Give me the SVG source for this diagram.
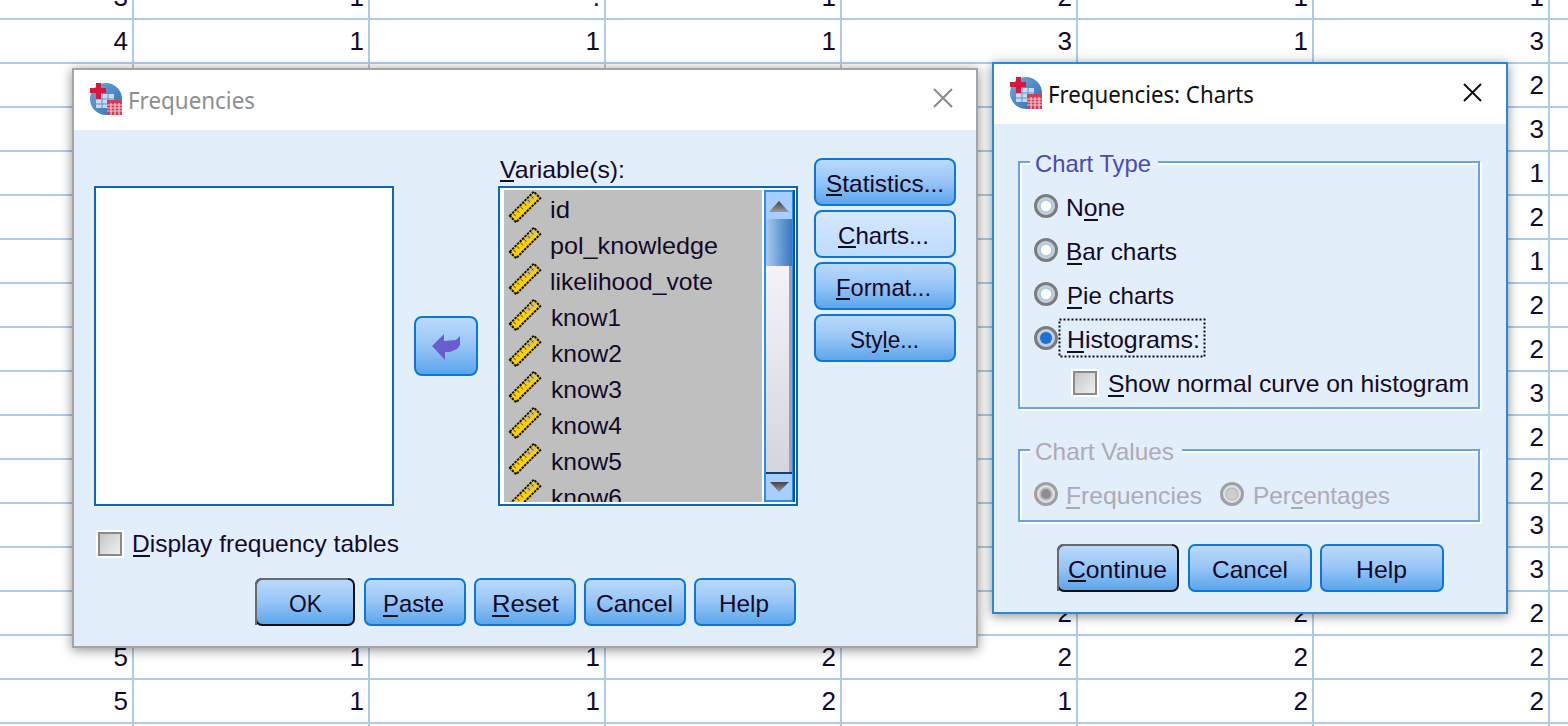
<svg xmlns="http://www.w3.org/2000/svg" width="1568" height="726" viewBox="0 0 1568 726">
<style>
.grid{stroke:#b0cbe6;stroke-width:2;fill:none}
.d{font-family:"Liberation Sans",Arial,sans-serif;font-size:26px;fill:#140a28;text-anchor:end}
.t{font-family:"Liberation Sans",Arial,sans-serif;font-size:24px;fill:#140a28;transform:translateY(.5px)}
.ttl{font-family:"Noto Sans","Open Sans",sans-serif;font-size:24px}
.grp{font-family:"Liberation Sans",Arial,sans-serif;font-size:24px;fill:#4a4ab4}
.dis{fill:#aeaab4}
.u{fill:#111}
.ud{fill:#aaa}
.btn{fill:url(#bg);stroke:#0b78d8;stroke-width:2}
.hov{fill:url(#bh);stroke:#0b78d8;stroke-width:2}
.box{fill:#fff;stroke:#0b67b8;stroke-width:2}
.gl{fill:none;stroke:#fff;stroke-width:2}
.gb{fill:none;stroke:#6fa2d6;stroke-width:2}
</style>
<defs>
<linearGradient id="bg" x1="0" y1="0" x2="0" y2="1"><stop offset="0" stop-color="#bcdafc"/><stop offset="0.5" stop-color="#96c5f6"/><stop offset="1" stop-color="#58a4ea"/></linearGradient>
<linearGradient id="bh" x1="0" y1="0" x2="0" y2="1"><stop offset="0" stop-color="#d4e7fc"/><stop offset="1" stop-color="#bedcfb"/></linearGradient>
<linearGradient id="thumb" x1="0" y1="0" x2="1" y2="0"><stop offset="0" stop-color="#a6cbf0"/><stop offset="1" stop-color="#3a78bc"/></linearGradient>
<linearGradient id="trough" x1="0" y1="0" x2="0" y2="1"><stop offset="0" stop-color="#ffffff"/><stop offset="1" stop-color="#d0d0dc"/></linearGradient>
<linearGradient id="chk" x1="0" y1="0" x2="1" y2="1"><stop offset="0" stop-color="#c4c4c4"/><stop offset="1" stop-color="#f2f2f2"/></linearGradient>
<linearGradient id="glob" x1="0" y1="0" x2="1" y2="1"><stop offset="0" stop-color="#6fa8dc"/><stop offset="1" stop-color="#2f6fae"/></linearGradient>
<linearGradient id="tri" x1="0" y1="0" x2="0" y2="1"><stop offset="0" stop-color="#444"/><stop offset="1" stop-color="#9a9a9a"/></linearGradient>
<filter id="sh" x="-5%" y="-5%" width="110%" height="110%"><feDropShadow dx="0" dy="2" stdDeviation="6" flood-color="#000" flood-opacity="0.45"/></filter>
<clipPath id="listclip"><rect x="504" y="190" width="258" height="312"/></clipPath>
<g id="ruler" transform="rotate(-45)">
<rect x="-17" y="-4.500" width="34" height="9" fill="#ffd000" stroke="#111" stroke-width="2" stroke-dasharray="2.500 1"/>
<rect x="4" y="-3.500" width="12" height="4" fill="#c9c27e"/>
<path d="M-13-3v3M-8-3v3M-3-3v3M2-3v3M7-3v3M12-3v3" stroke="#6a5a10" stroke-width="1"/>
</g>
<g id="icon">
<circle cx="16" cy="16" r="16" fill="url(#glob)"/>
<rect x="6" y="11" width="18" height="14" fill="#c4dbf2"/>
<path d="M6 16h18M6 21h18M12 11v14M18 11v14" stroke="#5f93cc" stroke-width="1"/>
<rect x="0" y="5" width="16" height="5" fill="#d4183f"/>
<rect x="6" y="0" width="5" height="16" fill="#d4183f"/>
<rect x="17" y="17" width="15" height="15" fill="#cf3f5c"/>
<path d="M17 22h15M17 25h15M17 28h15M21 20v12M25 20v12M29 20v12" stroke="#f4c4cf" stroke-width="1.200"/>
</g>
<g id="radio"><circle r="10.500" fill="#c4d2de" stroke="#7c7c7c" stroke-width="3"/><circle r="6" fill="#fff" stroke="#a9c8e6" stroke-width="1.500"/></g>
<g id="radiod"><circle r="10.500" fill="#dde2e6" stroke="#a0a0a0" stroke-width="3"/><circle r="6" fill="#cfcfcf" stroke="#bbb" stroke-width="1.500"/></g>
<g id="check"><rect x="-1" y="-1" width="28" height="28" fill="#fff"/><rect x="2" y="2" width="22" height="22" fill="url(#chk)" stroke="#8a8a8a" stroke-width="2"/></g>
</defs>
<rect width="1568" height="726" fill="#fff"/>
<g id="data-grid">
<path class="grid" d="M133 0V726M369 0V726M605 0V726M841 0V726M1077 0V726M1313 0V726M1549 0V726"/>
<path class="grid" d="M0 19H1568M0 63H1568M0 107H1568M0 151H1568M0 195H1568M0 239H1568M0 283H1568M0 327H1568M0 371H1568M0 415H1568M0 459H1568M0 503H1568M0 547H1568M0 591H1568M0 635H1568M0 679H1568M0 723H1568"/>
<text class="d" x="128" y="6">3</text><text class="d" x="364" y="6">1</text><text class="d" x="600" y="6">.</text><text class="d" x="836" y="6">1</text><text class="d" x="1072" y="6">2</text><text class="d" x="1308" y="6">1</text><text class="d" x="1544" y="6">1</text>
<text class="d" x="128" y="50">4</text><text class="d" x="364" y="50">1</text><text class="d" x="600" y="50">1</text><text class="d" x="836" y="50">1</text><text class="d" x="1072" y="50">3</text><text class="d" x="1308" y="50">1</text><text class="d" x="1544" y="50">3</text>
<text class="d" x="1544" y="94">2</text><text class="d" x="1544" y="138">3</text><text class="d" x="1544" y="182">1</text><text class="d" x="1544" y="226">2</text><text class="d" x="1544" y="270">1</text><text class="d" x="1544" y="314">2</text><text class="d" x="1544" y="358">2</text><text class="d" x="1544" y="402">3</text><text class="d" x="1544" y="446">2</text><text class="d" x="1544" y="490">2</text><text class="d" x="1544" y="534">3</text><text class="d" x="1544" y="578">3</text>
<text class="d" x="1072" y="622">2</text><text class="d" x="1308" y="622">2</text><text class="d" x="1544" y="622">2</text>
<text class="d" x="128" y="666">5</text><text class="d" x="364" y="666">1</text><text class="d" x="600" y="666">1</text><text class="d" x="836" y="666">2</text><text class="d" x="1072" y="666">2</text><text class="d" x="1308" y="666">2</text><text class="d" x="1544" y="666">2</text>
<text class="d" x="128" y="710">5</text><text class="d" x="364" y="710">1</text><text class="d" x="600" y="710">1</text><text class="d" x="836" y="710">2</text><text class="d" x="1072" y="710">1</text><text class="d" x="1308" y="710">2</text><text class="d" x="1544" y="710">2</text>
</g>
<g id="frequencies-dialog">
<rect x="73" y="69" width="904" height="578" fill="#e2eefa" stroke="#a4a4a4" stroke-width="2" filter="url(#sh)"/>
<rect x="74" y="70" width="902" height="60" fill="#fff"/>
<use href="#icon" x="90" y="83"/>
<text class="ttl" x="128" y="109" fill="#8f8f8f" textLength="127" lengthAdjust="spacingAndGlyphs">Frequencies</text>
<path d="M934 89L952 107M952 89L934 107" stroke="#8a8a8a" stroke-width="2" fill="none"/>
<g id="source-list"><rect class="box" x="95" y="187" width="298" height="318"/></g>
<g id="move-button">
<rect class="btn" x="415" y="317" width="62" height="58" rx="7"/>
<path d="M432 346L444 334V341L456 340L460 336V345L457 349L450 352L445 352V360Z" fill="#6a5ecf"/>
</g>
<g id="variables-list">
<text class="t" x="500" y="177" textLength="125" lengthAdjust="spacingAndGlyphs">Variable(s):</text>
<rect class="u" x="500" y="180" width="14" height="2"/>
<rect class="box" x="499" y="187" width="298" height="318"/>
<rect x="504" y="190" width="258" height="312" fill="#bfbfbf"/>
<g clip-path="url(#listclip)">
<use href="#ruler" x="525" y="207"/><use href="#ruler" x="525" y="243"/><use href="#ruler" x="525" y="279"/><use href="#ruler" x="525" y="315"/><use href="#ruler" x="525" y="351"/><use href="#ruler" x="525" y="387"/><use href="#ruler" x="525" y="423"/><use href="#ruler" x="525" y="459"/><use href="#ruler" x="525" y="495"/>
<text class="t" x="550" y="217" textLength="20" lengthAdjust="spacingAndGlyphs">id</text>
<text class="t" x="550" y="253" textLength="168" lengthAdjust="spacingAndGlyphs">pol_knowledge</text>
<text class="t" x="550" y="289" textLength="163" lengthAdjust="spacingAndGlyphs">likelihood_vote</text>
<text class="t" x="551" y="325" textLength="70" lengthAdjust="spacingAndGlyphs">know1</text>
<text class="t" x="551" y="361" textLength="71" lengthAdjust="spacingAndGlyphs">know2</text>
<text class="t" x="551" y="397" textLength="71" lengthAdjust="spacingAndGlyphs">know3</text>
<text class="t" x="551" y="433" textLength="71" lengthAdjust="spacingAndGlyphs">know4</text>
<text class="t" x="551" y="469" textLength="71" lengthAdjust="spacingAndGlyphs">know5</text>
<text class="t" x="551" y="505" textLength="71" lengthAdjust="spacingAndGlyphs">know6</text>
</g>
<g id="scrollbar">
<rect x="765" y="191" width="28" height="310" fill="url(#trough)" stroke="#2a8cf0" stroke-width="2"/>
<rect x="789" y="219" width="3" height="254" fill="#a0a0ac"/>
<rect x="766" y="192" width="26" height="27" fill="#a6ceff"/>
<path d="M769 212L779 201L789 212Z" fill="url(#tri)"/>
<rect x="766" y="219" width="26" height="47" fill="url(#thumb)"/>
<rect x="766" y="474" width="26" height="26" fill="#a6ceff"/>
<rect x="766" y="472" width="26" height="2" fill="#0d3f78"/>
<path d="M770 482H789L779 492Z" fill="url(#tri)"/>
<rect x="793" y="190" width="2" height="312" fill="#0d4f94"/>
</g>
</g>
<g id="btn-statistics"><rect class="btn" x="815" y="159" width="140" height="46" rx="7"/><text class="t" x="826" y="191" textLength="118" lengthAdjust="spacingAndGlyphs">Statistics...</text><rect class="u" x="826" y="194" width="16" height="2"/></g>
<g id="btn-charts"><rect class="hov" x="815" y="211" width="140" height="46" rx="7"/><text class="t" x="838" y="243" textLength="91" lengthAdjust="spacingAndGlyphs">Charts...</text><rect class="u" x="838" y="246" width="18" height="2"/></g>
<g id="btn-format"><rect class="btn" x="815" y="263" width="140" height="46" rx="7"/><text class="t" x="836" y="295" textLength="95" lengthAdjust="spacingAndGlyphs">Format...</text><rect class="u" x="836" y="298" width="14" height="2"/></g>
<g id="btn-style"><rect class="btn" x="815" y="315" width="140" height="46" rx="7"/><text class="t" x="850" y="347" textLength="69" lengthAdjust="spacingAndGlyphs">Style...</text><rect class="u" x="884" y="350" width="5" height="2"/></g>
<g id="display-tables"><use href="#check" x="97" y="531"/><text class="t" x="132" y="551" textLength="267" lengthAdjust="spacingAndGlyphs">Display frequency tables</text><rect class="u" x="133" y="555" width="17" height="2"/></g>
<g id="btn-ok"><rect class="btn" x="256" y="579" width="98" height="46" rx="6" style="stroke:#111"/><path d="M256 625V585Q256 579 262 579H348" fill="none" stroke="#6a6a6a" stroke-width="2"/><text class="t" x="289" y="611" textLength="33" lengthAdjust="spacingAndGlyphs">OK</text></g>
<g id="btn-paste"><rect class="btn" x="365" y="579" width="100" height="46" rx="6"/><text class="t" x="383" y="611" textLength="61" lengthAdjust="spacingAndGlyphs">Paste</text><rect class="u" x="383" y="615" width="15" height="2"/></g>
<g id="btn-reset"><rect class="btn" x="475" y="579" width="100" height="46" rx="6"/><text class="t" x="492" y="611" textLength="67" lengthAdjust="spacingAndGlyphs">Reset</text><rect class="u" x="492" y="615" width="17" height="2"/></g>
<g id="btn-cancel"><rect class="btn" x="585" y="579" width="100" height="46" rx="6"/><text class="t" x="596" y="611" textLength="77" lengthAdjust="spacingAndGlyphs">Cancel</text></g>
<g id="btn-help"><rect class="btn" x="695" y="579" width="100" height="46" rx="6"/><text class="t" x="719" y="611" textLength="50" lengthAdjust="spacingAndGlyphs">Help</text></g>
</g>
<g id="charts-dialog">
<rect x="993" y="63" width="514" height="550" fill="#e2eefa" stroke="#2b88d8" stroke-width="2" filter="url(#sh)"/>
<rect x="994" y="64" width="512" height="60" fill="#fff"/>
<use href="#icon" x="1010" y="77"/>
<text class="ttl" x="1048" y="103" fill="#111" textLength="206" lengthAdjust="spacingAndGlyphs">Frequencies: Charts</text>
<path d="M1464 84L1481 101M1481 84L1464 101" stroke="#111" stroke-width="2" fill="none"/>
<g id="chart-type">
<path class="gl" d="M1030 164H1021V410H1481V164H1158"/>
<path class="gb" d="M1030 162H1019V408H1479V162H1158"/>
<text class="grp" x="1035" y="172" textLength="116" lengthAdjust="spacingAndGlyphs">Chart Type</text>
<g id="opt-none"><use href="#radio" x="1046" y="206"/><text class="t" x="1066" y="215" textLength="59" lengthAdjust="spacingAndGlyphs">None</text><rect class="u" x="1084" y="219" width="14" height="2"/></g>
<g id="opt-bar"><use href="#radio" x="1046" y="250"/><text class="t" x="1066" y="259" textLength="111" lengthAdjust="spacingAndGlyphs">Bar charts</text><rect class="u" x="1067" y="263" width="15" height="2"/></g>
<g id="opt-pie"><use href="#radio" x="1046" y="294"/><text class="t" x="1067" y="303" textLength="107" lengthAdjust="spacingAndGlyphs">Pie charts</text><rect class="u" x="1067" y="307" width="15" height="2"/></g>
<g id="opt-histograms"><use href="#radio" x="1046" y="338"/><circle cx="1046" cy="338" r="6" fill="#1f70d0"/>
<rect x="1059.500" y="319.500" width="145" height="37" fill="none" stroke="#111" stroke-width="2" stroke-dasharray="2 2"/>
<text class="t" x="1067" y="347" textLength="133" lengthAdjust="spacingAndGlyphs">Histograms:</text><rect class="u" x="1067" y="351" width="17" height="2"/></g>
<g id="opt-normal"><use href="#check" x="1072" y="370"/><text class="t" x="1108" y="391" textLength="361" lengthAdjust="spacingAndGlyphs">Show normal curve on histogram</text><rect class="u" x="1108" y="395" width="16" height="2"/></g>
</g>
<g id="chart-values">
<path class="gl" d="M1030 452H1021V523H1481V452H1182"/>
<path class="gb" d="M1030 450H1019V521H1479V450H1182"/>
<text class="grp dis" x="1035" y="460" textLength="139" lengthAdjust="spacingAndGlyphs">Chart Values</text>
<g id="opt-frequencies"><use href="#radiod" x="1046" y="494"/><circle cx="1046" cy="494" r="5" fill="#8e8e8e"/><text class="t dis" x="1066" y="503" textLength="136" lengthAdjust="spacingAndGlyphs">Frequencies</text><rect class="ud" x="1066" y="507" width="14" height="2"/></g>
<g id="opt-percentages"><use href="#radiod" x="1232" y="494"/><text class="t dis" x="1253" y="503" textLength="137" lengthAdjust="spacingAndGlyphs">Percentages</text><rect class="ud" x="1291" y="507" width="12" height="2"/></g>
</g>
<g id="btn-continue"><rect class="btn" x="1058" y="545" width="120" height="46" rx="6" style="stroke:#111"/><path d="M1058 591V551Q1058 545 1064 545H1172" fill="none" stroke="#6a6a6a" stroke-width="2"/><text class="t" x="1068" y="577" textLength="99" lengthAdjust="spacingAndGlyphs">Continue</text><rect class="u" x="1068" y="580" width="18" height="2"/></g>
<g id="btn-cancel2"><rect class="btn" x="1189" y="545" width="122" height="46" rx="6"/><text class="t" x="1212" y="577" textLength="76" lengthAdjust="spacingAndGlyphs">Cancel</text></g>
<g id="btn-help2"><rect class="btn" x="1321" y="545" width="122" height="46" rx="6"/><text class="t" x="1356" y="577" textLength="51" lengthAdjust="spacingAndGlyphs">Help</text></g>
</g>
</svg>
